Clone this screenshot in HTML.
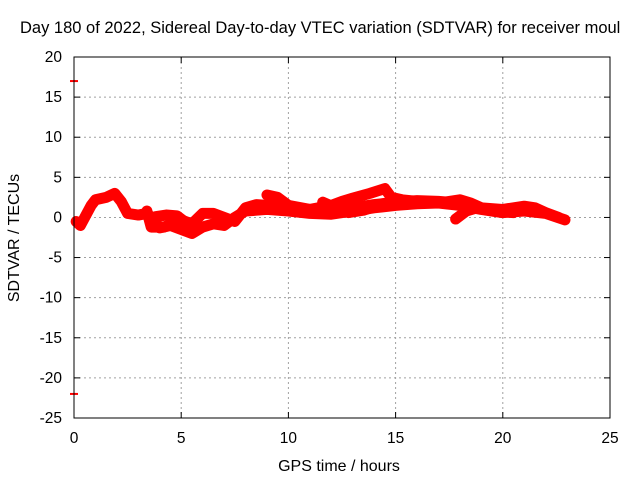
<!DOCTYPE html>
<html><head><meta charset="utf-8"><style>
body{margin:0;background:#fff}
svg{display:block;font-family:"Liberation Sans",sans-serif;font-size:15.5px}
</style></head><body>
<svg id="chart" width="640" height="480" viewBox="0 0 640 480">
<text x="20" y="33" font-size="16.5">Day 180 of 2022, Sidereal Day-to-day VTEC variation (SDTVAR) for receiver moul</text>
<g id="grid"></g>
<g id="axes"></g>
<g id="series"></g>
<rect x="74" y="57" width="536" height="361" fill="none" stroke="#000" stroke-width="1"/>
<text x="339" y="471" text-anchor="middle" font-size="16">GPS time / hours</text>
<text transform="translate(19,238) rotate(-90)" text-anchor="middle" font-size="16">SDTVAR / TECUs</text>
</svg>
<script>
const xTicks=[0,5,10,15,20,25];
const yTicks=[20,15,10,5,0,-5,-10,-15,-20,-25];
const trackMainH=[0.1,0.3,0.5,0.8,1.0,1.5,1.9,2.2,2.5,3.0,3.4,3.6,4.0,4.5,5.0,5.5,6.0,6.5,7.0,7.5,8.0,9,10,11,12,13,14,15,16,17,18,19,20,21,22,22.9];
const trackMainV=[-0.5,-1,0,1.5,2.2,2.5,3.0,2.0,0.5,0.3,0.5,0,-1.3,-1,-1.5,-2.0,-1.2,-0.8,-1.0,0,0.8,1,0.8,0.5,0.4,0.8,1.2,1.5,1.7,1.8,1.5,1.0,0.6,0.8,0.5,-0.3];
const trackBH=[3.4,3.6,4.2,5.0,5.5,6.0,6.5,7.0,7.5,8.0,8.5,9,10,11,12,13,14,15,16,17,17.5];
const trackBV=[0.8,-1.2,-1.2,-0.3,-0.8,0.5,0.5,0.0,-0.5,1.2,1.6,1.5,1.2,1.0,0.8,1.2,1.6,1.9,2.1,2.0,1.9];
const trackCH=[3.8,4.3,4.8,5.2,5.6];
const trackCV=[0.1,0.3,0.2,-0.6,-1.0];
const trackDH=[9.0,9.5,10,11,12,12.5,13,13.8,14.5,14.8,15.3,16,17,18,18.5,19,20,21,21.5,22,22.6];
const trackDV=[2.8,2.5,1.5,1.0,1.5,2.0,2.4,3.0,3.6,2.5,2.2,2.0,1.8,2.2,1.8,1.2,1.0,1.4,1.2,0.6,0.0];
const trackEH=[11.6,12.2,12.8,13.5,14.2,15];
const trackEV=[1.9,1.2,0.6,0.9,1.5,1.9];
const trackFH=[17.8,18.3,18.8,19.5,20.5];
const trackFV=[-0.2,0.8,1.2,0.8,0.6];
const markerV=[17,-22];
const sx=h=>74+h*536/25, sy=v=>57+(20-v)*361/45;
const NS="http://www.w3.org/2000/svg";
const grid=document.getElementById('grid'),axes=document.getElementById('axes'),ser=document.getElementById('series');
function mk(tag,attrs,parent){const e=document.createElementNS(NS,tag);for(const k in attrs)e.setAttribute(k,attrs[k]);parent.appendChild(e);return e;}
xTicks.forEach(t=>{const x=sx(t);
 if(t>0&&t<25){const g=mk('line',{x1:x,x2:x,y1:57,y2:418,stroke:'#a0a0a0','stroke-dasharray':'2,3'},grid);
 
 }
 mk('line',{x1:x,x2:x,y1:418,y2:412,stroke:'#000'},axes);mk('line',{x1:x,x2:x,y1:57,y2:63,stroke:'#000'},axes);
 const l=mk('text',{x:x,y:443,'text-anchor':'middle'},axes);l.textContent=t;
 
 });
yTicks.forEach(t=>{const y=sy(t);
 if(t<20&&t>-25){const g=mk('line',{x1:74,x2:610,y1:y,y2:y,stroke:'#a0a0a0','stroke-dasharray':'2,3'},grid);
 
 }
 mk('line',{x1:74,x2:80,y1:y,y2:y,stroke:'#000'},axes);mk('line',{x1:610,x2:604,y1:y,y2:y,stroke:'#000'},axes);
 const l=mk('text',{x:62,y:y+5,'text-anchor':'end'},axes);l.textContent=t;
 
 });
[[trackMainH,trackMainV],[trackBH,trackBV],[trackCH,trackCV],[trackDH,trackDV],[trackEH,trackEV],[trackFH,trackFV]].forEach(([H,V])=>{
 const p=mk('polyline',{points:H.map((h,i)=>sx(h)+','+sy(V[i])).join(' '),fill:'none',stroke:'#f00','stroke-width':11,'stroke-linejoin':'round','stroke-linecap':'round'},ser);
 
 });
markerV.forEach(v=>{const m=mk('line',{x1:70,x2:78,y1:sy(v),y2:sy(v),stroke:'#f00','stroke-width':2},ser);
 
 });
</script>
</body></html>
